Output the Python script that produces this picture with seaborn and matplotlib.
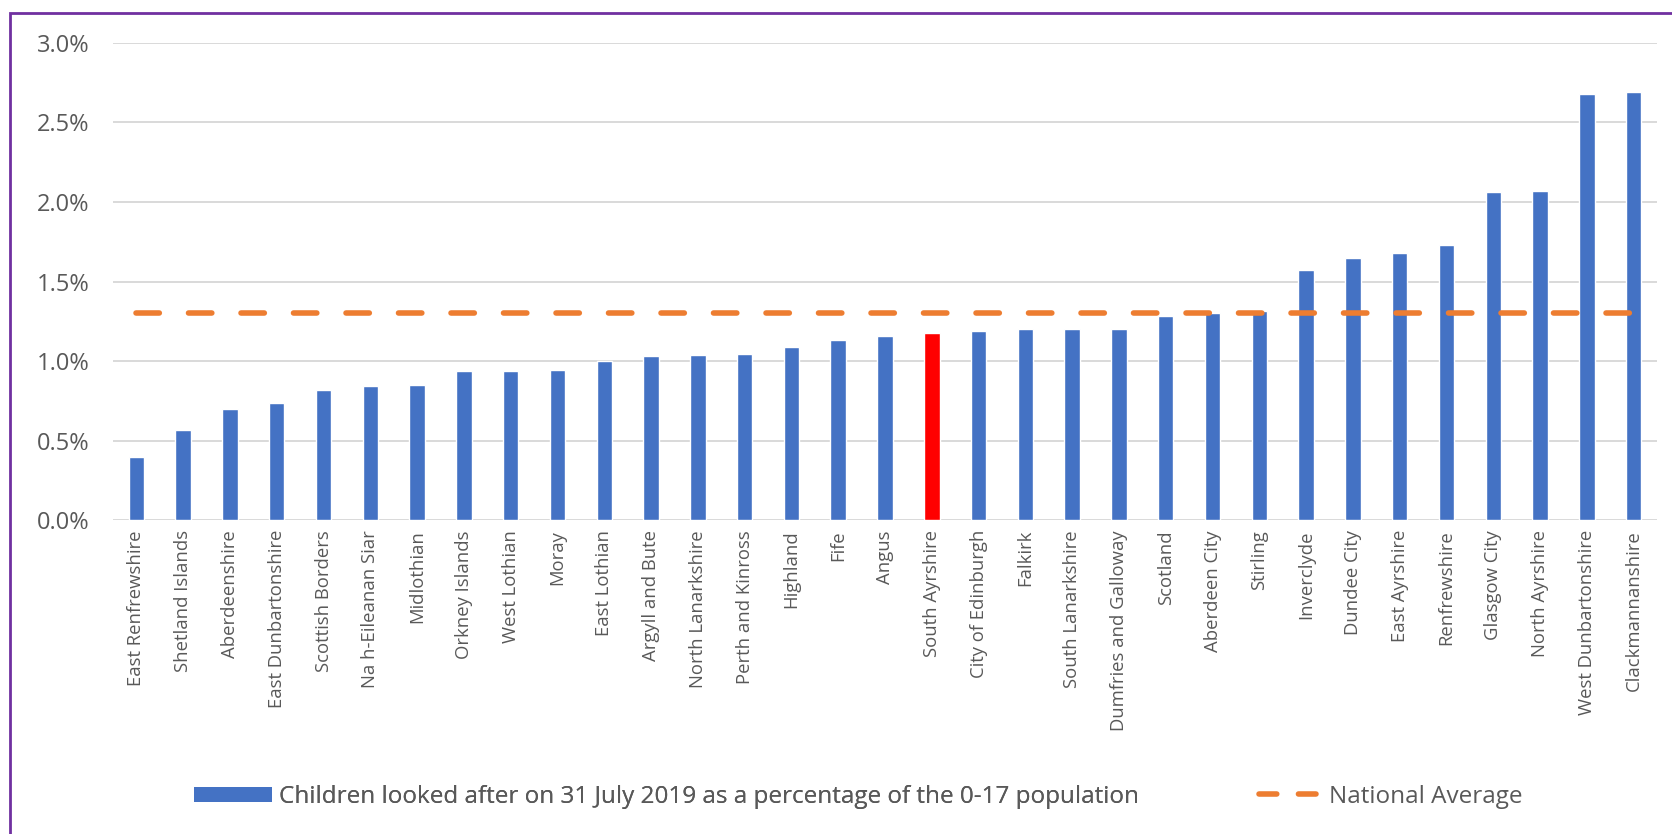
import matplotlib
matplotlib.use("Agg")
import matplotlib.pyplot as plt
import seaborn as sns
import numpy as np
import pandas as pd
from matplotlib.patches import Patch, Rectangle
from matplotlib.lines import Line2D
from matplotlib.ticker import FuncFormatter

# Council areas, sorted by rate of looked-after children (% of 0-17 population)
regions = [
    "East Renfrewshire", "Shetland Islands", "Aberdeenshire", "East Dunbartonshire",
    "Scottish Borders", "Na h-Eileanan Siar", "Midlothian", "Orkney Islands",
    "West Lothian", "Moray", "East Lothian", "Argyll and Bute", "North Lanarkshire",
    "Perth and Kinross", "Highland", "Fife", "Angus", "South Ayrshire",
    "City of Edinburgh", "Falkirk", "South Lanarkshire", "Dumfries and Galloway",
    "Scotland", "Aberdeen City", "Stirling", "Inverclyde", "Dundee City",
    "East Ayrshire", "Renfrewshire", "Glasgow City", "North Ayrshire",
    "West Dunbartonshire", "Clackmannanshire",
]
rates = [
    0.40, 0.57, 0.70, 0.74, 0.82, 0.845, 0.85, 0.94, 0.94, 0.945,
    1.00, 1.03, 1.036, 1.045, 1.09, 1.13, 1.155, 1.18, 1.19, 1.20,
    1.20, 1.20, 1.285, 1.30, 1.315, 1.57, 1.65, 1.68, 1.73, 2.06,
    2.07, 2.68, 2.69,
]
national_average = 1.30
highlight = "South Ayrshire"

y_ticks = [0.0, 0.5, 1.0, 1.5, 2.0, 2.5, 3.0]
bar_label = "Children looked after on 31 July 2019 as a percentage of the 0-17 population"
avg_label = "National Average"

BLUE = "#4472C4"
RED = "#FF0000"
ORANGE = "#ED7D31"
GRID = "#D9D9D9"
TEXT = "#595959"
DASH = (0, (4.2, 5.25))
LEGEND_DASH = (0, (3.2, 3.9))

sns.set_style("white")
plt.rcParams["font.family"] = ["Open Sans", "DejaVu Sans"]

df = pd.DataFrame({"region": regions, "rate": rates})
df["pos"] = np.arange(len(df))
df["avg"] = national_average
palette = {r: (RED if r == highlight else BLUE) for r in regions}

fig = plt.figure(figsize=(16.72, 8.34), dpi=100)
ax = fig.add_axes([113 / 1672, 1 - 520.4 / 834, 1544 / 1672, (520.4 - 42.7) / 834])

sns.barplot(data=df, x="region", y="rate", hue="region", palette=palette,
            order=regions, legend=False, width=0.33, saturation=1,
            ax=ax, zorder=3)
sns.lineplot(data=df, x="pos", y="avg", color=ORANGE, linewidth=4,
             linestyle=DASH, dash_capstyle="round", ax=ax, zorder=4)

ax.set_xlim(-0.5, len(regions) - 0.5)
ax.set_ylim(0, 3.0)
ax.set_yticks(y_ticks)
ax.yaxis.set_major_formatter(FuncFormatter(lambda v, _: f"{v:.1f}%"))
ax.grid(axis="y", color=GRID, linewidth=1.4, zorder=0)
ax.set_axisbelow(True)
for s in ax.spines.values():
    s.set_visible(False)
ax.set_xlabel("")
ax.set_ylabel("")
ax.tick_params(axis="y", length=0, pad=17, labelsize=17, labelcolor=TEXT)
ax.tick_params(axis="x", length=0, pad=7, labelsize=13.3, labelcolor=TEXT)
ax.set_xticks(range(len(regions)))
ax.set_xticklabels(regions, rotation=90, va="top", ha="center")

# Legend entries, laid out as two separate groups along the bottom
leg_y = 1 - 797 / 834
leg1 = fig.legend(handles=[Patch(facecolor=BLUE, edgecolor="none", label=bar_label)],
                  loc="center left", bbox_to_anchor=(194 / 1672, leg_y),
                  frameon=False, fontsize=17.5, handlelength=3.2, handleheight=0.58,
                  handletextpad=0.29, borderpad=0, borderaxespad=0, labelcolor=TEXT)
leg2 = fig.legend(handles=[Line2D([], [], color=ORANGE, linewidth=4, linestyle=LEGEND_DASH,
                                  dash_capstyle="round", label=avg_label)],
                  loc="center left", bbox_to_anchor=(1259 / 1672, leg_y),
                  frameon=False, fontsize=17.5, handlelength=2.36,
                  handletextpad=0.53, borderpad=0, borderaxespad=0, labelcolor=TEXT)
fig.add_artist(leg1)

# Purple frame around the chart area
fig.patches.append(Rectangle((10 / 1672, -0.2), 1.2, 0.2 + 1 - 13 / 834,
                             transform=fig.transFigure, fill=False,
                             edgecolor="#7030A0", linewidth=2))

fig.savefig("out.png", dpi=100)
